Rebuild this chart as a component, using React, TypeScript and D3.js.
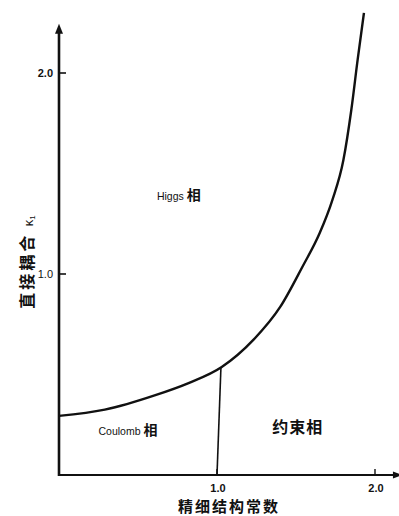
import React, { useEffect, useRef } from "react";
import * as d3 from "d3";

// phase boundary between Higgs and Coulomb/confinement phases
const boundaryX = [0, 0.29, 0.61, 0.82, 1.03, 1.23, 1.4, 1.54, 1.65, 1.73, 1.8, 1.85, 1.89, 1.93];
const boundaryY = [0.294, 0.325, 0.397, 0.457, 0.537, 0.672, 0.836, 1.035, 1.204, 1.368, 1.567, 1.816, 2.065, 2.299];

// Coulomb / confinement separator
const dividerX = [1.0, 1.025];
const dividerY = [0, 0.537];

const xTicks = [1.0, 2.0];
const yTicks = [1.0, 2.0];
const xTickLabels = ["1.0", "2.0"];
const yTickLabels = ["1.0", "2.0"];

const regionLabels = [
  { latin: "Higgs", han: "相", x: 0.62, y: 1.37 },
  { latin: "Coulomb", han: "相", x: 0.25, y: 0.2 },
  { latin: "", han: "约束相", x: 1.35, y: 0.21 },
];

const W = 399;
const H = 516;

const App = () => {
  const svgRef = useRef<SVGSVGElement>(null);

  useEffect(() => {
    if (!svgRef.current) return;
    const root = d3.select(svgRef.current);
    root.selectAll("*").remove();

    const x0 = 59;
    const y0 = 475;
    const xScale = d3.scaleLinear().domain([0, 1]).range([x0, x0 + 158]);
    const yScale = d3.scaleLinear().domain([0, 1]).range([y0, y0 - 201]);

    const cjk = "'Noto Sans CJK SC', sans-serif";
    const latin = "'Liberation Sans', Arial, sans-serif";

    // axes
    const xEnd = xScale(2.12);
    const yEnd = yScale(2.2);
    root
      .append("line")
      .attr("x1", x0)
      .attr("y1", y0)
      .attr("x2", xEnd)
      .attr("y2", y0)
      .attr("stroke", "#111")
      .attr("stroke-width", 2.2);
    root
      .append("path")
      .attr("d", `M${xEnd + 8},${y0} L${xEnd - 1},${y0 - 3.5} L${xEnd - 1},${y0 + 3.5} Z`)
      .attr("fill", "#111");
    root
      .append("line")
      .attr("x1", x0)
      .attr("y1", y0 + 1)
      .attr("x2", x0)
      .attr("y2", yEnd)
      .attr("stroke", "#111")
      .attr("stroke-width", 2.6);
    root
      .append("path")
      .attr("d", `M${x0},${yEnd - 9} L${x0 - 4},${yEnd + 1} L${x0 + 4},${yEnd + 1} Z`)
      .attr("fill", "#111");

    // ticks
    yTicks.forEach((t, i) => {
      root
        .append("line")
        .attr("x1", x0)
        .attr("x2", x0 + 7)
        .attr("y1", yScale(t))
        .attr("y2", yScale(t))
        .attr("stroke", "#111")
        .attr("stroke-width", 1.6);
      root
        .append("text")
        .attr("x", x0 - 6)
        .attr("y", yScale(t) + 4)
        .attr("text-anchor", "end")
        .attr("font-family", latin)
        .attr("font-size", 11)
        .attr("font-weight", i === 1 ? "bold" : "normal")
        .attr("fill", "#111")
        .text(yTickLabels[i]);
    });
    xTicks.forEach((t, i) => {
      root
        .append("line")
        .attr("x1", xScale(t))
        .attr("x2", xScale(t))
        .attr("y1", y0)
        .attr("y2", y0 - 6)
        .attr("stroke", "#111")
        .attr("stroke-width", 1.4);
      root
        .append("text")
        .attr("x", xScale(t) + 1)
        .attr("y", y0 + 17)
        .attr("text-anchor", "middle")
        .attr("font-family", latin)
        .attr("font-size", 11)
        .attr("font-weight", "bold")
        .attr("fill", "#111")
        .text(xTickLabels[i]);
    });

    // axis titles
    root
      .append("text")
      .attr("x", 229)
      .attr("y", 512)
      .attr("text-anchor", "middle")
      .attr("font-family", cjk)
      .attr("font-size", 15)
      .attr("font-weight", "bold")
      .attr("letter-spacing", 2)
      .attr("fill", "#111")
      .text("精细结构常数");

    const yTitle = root
      .append("text")
      .attr("transform", "translate(33,262) rotate(-90)")
      .attr("text-anchor", "middle")
      .attr("font-family", cjk)
      .attr("font-size", 16)
      .attr("font-weight", "bold")
      .attr("fill", "#111");
    yTitle.append("tspan").attr("letter-spacing", 3).text("直接耦合 ");
    yTitle.append("tspan").attr("font-family", latin).attr("font-weight", "normal").attr("font-size", 13).text("κ");
    yTitle.append("tspan").attr("font-family", latin).attr("font-weight", "normal").attr("font-size", 8).attr("dy", 2).text("1");

    // phase boundary
    const line = d3
      .line<number>()
      .x((_, i) => xScale(boundaryX[i]))
      .y((d) => yScale(d))
      .curve(d3.curveMonotoneX);
    root
      .append("path")
      .attr("d", line(boundaryY))
      .attr("fill", "none")
      .attr("stroke", "#111")
      .attr("stroke-width", 2.4);

    const divider = d3
      .line<number>()
      .x((_, i) => xScale(dividerX[i]))
      .y((d) => yScale(d));
    root
      .append("path")
      .attr("d", divider(dividerY))
      .attr("fill", "none")
      .attr("stroke", "#111")
      .attr("stroke-width", 1.6);

    // region labels
    regionLabels.forEach((r) => {
      const t = root
        .append("text")
        .attr("x", xScale(r.x))
        .attr("y", yScale(r.y))
        .attr("fill", "#111");
      if (r.latin) {
        t.append("tspan").attr("font-family", latin).attr("font-size", 10.5).text(r.latin + " ");
        t.append("tspan").attr("font-family", cjk).attr("font-size", 14).attr("font-weight", "bold").text(r.han);
      } else {
        t.append("tspan")
          .attr("font-family", cjk)
          .attr("font-size", 16)
          .attr("font-weight", "bold")
          .attr("letter-spacing", 1)
          .text(r.han);
      }
    });
  }, []);

  return (
    <svg
      ref={svgRef}
      width={W}
      height={H}
      style={{ position: "absolute", left: 0, top: 0, background: "#fff" }}
    ></svg>
  );
};

export default App;
